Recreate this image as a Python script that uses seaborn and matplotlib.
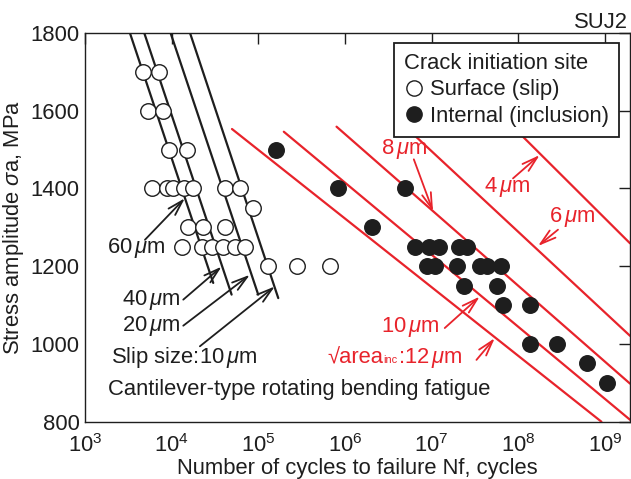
import numpy as np
import pandas as pd
import matplotlib
matplotlib.use('Agg')
import matplotlib.pyplot as plt
from matplotlib.lines import Line2D
from matplotlib.ticker import FixedLocator, NullLocator
import seaborn as sns

# ---------------- data ----------------
surface_N = [4.63e3, 7.14e3,
             5.37e3, 8.0e3,
             9.31e3, 1.49e4,
             5.87e3, 8.89e3, 1.04e4, 1.39e4, 1.77e4, 4.12e4, 6.14e4,
             8.59e4,
             1.55e4, 2.32e4, 4.12e4,
             1.30e4, 2.22e4, 2.89e4, 3.94e4, 5.37e4, 7.0e4,
             1.28e5, 2.77e5, 6.70e5]
surface_S = [1700, 1700,
             1600, 1600,
             1500, 1500,
             1400, 1400, 1400, 1400, 1400, 1400, 1400,
             1350,
             1300, 1300, 1300,
             1250, 1250, 1250, 1250, 1250, 1250,
             1200, 1200, 1200]

internal_N = [1.60e5,
              8.36e5, 4.91e6,
              2.08e6,
              6.40e6, 9.29e6, 1.21e7, 2.06e7, 2.55e7,
              8.81e6, 1.09e7, 1.95e7, 3.60e7, 4.34e7, 6.28e7,
              2.35e7, 5.69e7,
              6.62e7, 1.36e8,
              1.36e8, 2.81e8,
              6.22e8,
              1.07e9]
internal_S = [1500,
              1400, 1400,
              1300,
              1250, 1250, 1250, 1250, 1250,
              1200, 1200, 1200, 1200, 1200, 1200,
              1150, 1150,
              1100, 1100,
              1000, 1000,
              950,
              900]

# slip-size lines (start, end)
slip_sizes = ['60', '40', '20', '10']
slip_N = [[3.30e3, 3.02e4], [4.83e3, 4.92e4], [9.72e3, 9.98e4], [1.63e4, 1.70e5]]
slip_S = [[1800, 1157], [1800, 1127], [1800, 1127], [1800, 1118]]

# inclusion-size lines (start, end)
inc_sizes = ['12', '10', '8', '6', '4']
inc_N = [[4.97e4, 9.12e8], [1.97e5, 1.95e9], [8.0e5, 1.95e9], [5.19e6, 1.95e9], [9.04e7, 1.95e9]]
inc_S = [[1553, 800], [1546, 805], [1559, 898], [1555, 1021], [1555, 1259]]

xticks = [1e3, 1e4, 1e5, 1e6, 1e7, 1e8, 1e9]
yticks = [800, 1000, 1200, 1400, 1600, 1800]

# ---------------- style ----------------
sns.set_theme(style='white')
plt.rcParams['font.family'] = ['Liberation Sans', 'DejaVu Sans']
plt.rcParams['mathtext.fontset'] = 'custom'
plt.rcParams['mathtext.rm'] = 'Liberation Sans'
plt.rcParams['mathtext.it'] = 'Liberation Sans:italic'
plt.rcParams['mathtext.bf'] = 'Liberation Sans:bold'

FS = 15.8
INK = '#1e1e1e'
RED = '#e8232b'

fig = plt.figure(figsize=(6.31, 4.79), dpi=100)
ax = fig.add_axes([85 / 631, 1 - 421.7 / 479, 545 / 631, 388.7 / 479])
ax.set_xscale('log')

slip_df = pd.DataFrame({'N': np.ravel(slip_N), 'S': np.ravel(slip_S),
                        'size': np.repeat(slip_sizes, 2)})
sns.lineplot(data=slip_df, x='N', y='S', units='size', estimator=None, sort=False,
             color=INK, lw=1.6, ax=ax, zorder=2)

inc_df = pd.DataFrame({'N': np.ravel(inc_N), 'S': np.ravel(inc_S),
                       'size': np.repeat(inc_sizes, 2)})
sns.lineplot(data=inc_df, x='N', y='S', units='size', estimator=None, sort=False,
             color=RED, lw=1.6, ax=ax, zorder=2)

sns.scatterplot(x=surface_N, y=surface_S, s=125, color='white', edgecolor=INK,
                linewidth=1.0, ax=ax, zorder=3)
sns.scatterplot(x=internal_N, y=internal_S, s=125, color=INK, edgecolor=INK,
                linewidth=1.0, ax=ax, zorder=3)

ax.set_xlim(1e3, 1.95e9)
ax.set_ylim(800, 1800)
ax.xaxis.set_major_locator(FixedLocator(xticks))
ax.xaxis.set_minor_locator(NullLocator())
ax.yaxis.set_major_locator(FixedLocator(yticks))
ax.tick_params(which='both', direction='in', length=8, width=1.0, color=INK,
               top=True, right=True, labelsize=FS, labelcolor=INK)
ax.tick_params(axis='x', pad=9)
ax.tick_params(axis='y', pad=4)
for sp in ax.spines.values():
    sp.set_color(INK)
    sp.set_linewidth(1.0)

ax.set_xlabel('Number of cycles to failure Nf, cycles', fontsize=FS, color=INK)
ax.set_ylabel(r'Stress amplitude $\sigma$a, MPa', fontsize=FS, color=INK)
ax.xaxis.set_label_coords(0.5, -0.093)
ax.yaxis.set_label_coords(-0.108, 0.5)

# legend
handles = [Line2D([], [], ls='none', marker='o', ms=11, mfc='white', mec=INK, mew=1.0),
           Line2D([], [], ls='none', marker='o', ms=11, mfc=INK, mec=INK, mew=1.0)]
leg = ax.legend(handles, ['Surface (slip)', 'Internal (inclusion)'],
                title='Crack initiation site', loc='upper right',
                bbox_to_anchor=(0.980, 0.974), borderaxespad=0, fontsize=FS,
                title_fontsize=FS, alignment='left', frameon=True, fancybox=False,
                framealpha=1, edgecolor=INK, handlelength=0.85, handletextpad=0.33,
                borderpad=0.45, labelspacing=0.25)
leg.get_frame().set_linewidth(1.3)
leg.set_zorder(10)
for t in leg.get_texts():
    t.set_color(INK)
leg.get_title().set_color(INK)


def arrow(start, tip, color):
    ax.annotate('', xy=tip, xytext=start,
                arrowprops=dict(arrowstyle='->,head_length=0.75,head_width=0.22',
                                color=color, lw=1.3, shrinkA=0, shrinkB=0,
                                mutation_scale=15), zorder=4)


# black annotations
arrow((10**3.692, 1268), (10**4.153, 1375), INK)
arrow((10**4.134, 1114), (10**4.577, 1199), INK)
arrow((10**4.134, 1047), (10**4.903, 1178), INK)
arrow((10**4.326, 994), (10**5.191, 1148), INK)
ax.text(10**3.588, 1247, r'60$\,\mu$m', fontsize=FS, color=INK, ha='center', va='center')
ax.text(10**4.10, 1114, r'40$\,\mu$m', fontsize=FS, color=INK, ha='right', va='center')
ax.text(10**4.10, 1047, r'20$\,\mu$m', fontsize=FS, color=INK, ha='right', va='center')
ax.text(10**3.296, 964, r'Slip size:10$\,\mu$m', fontsize=FS, color=INK, ha='left', va='center')
ax.text(10**3.269, 882, 'Cantilever-type rotating bending fatigue', fontsize=FS,
        color=INK, ha='left', va='center')

# red annotations
arrow((10**6.795, 1475), (10**7.017, 1341), RED)
arrow((10**7.940, 1426), (10**8.248, 1486), RED)
arrow((10**8.459, 1294), (10**8.228, 1252), RED)
arrow((10**7.152, 1041), (10**7.556, 1122), RED)
arrow((10**7.518, 959), (10**7.729, 1015), RED)
ax.text(10**6.679, 1502, r'8$\,\mu$m', fontsize=FS, color=RED, ha='center', va='center')
ax.text(10**7.867, 1404, r'4$\,\mu$m', fontsize=FS, color=RED, ha='center', va='center')
ax.text(10**8.617, 1327, r'6$\,\mu$m', fontsize=FS, color=RED, ha='center', va='center')
ax.text(10**6.749, 1044, r'10$\,\mu$m', fontsize=FS, color=RED, ha='center', va='center')

t_area = ax.text(10**6.44, 951, '\u221aarea', fontsize=FS, color=RED,
                 ha='right', va='baseline')
t_inc = ax.annotate('inc', xy=(1, 0), xycoords=t_area, xytext=(0.3, FS * 0.212),
                    textcoords='offset points', fontsize=FS * 0.5, color=RED,
                    ha='left', va='baseline')
ax.annotate(':12$\\,\\mu$m', xy=(1, 0), xycoords=t_inc, xytext=(0.3, FS * 0.5 * 0.212),
            textcoords='offset points', fontsize=FS, color=RED,
            ha='left', va='baseline')

fig.text(628 / 631, 1 - 28.3 / 479, 'SUJ2', fontsize=FS, color=INK, ha='right', va='baseline')

fig.savefig('out.png', dpi=100)
